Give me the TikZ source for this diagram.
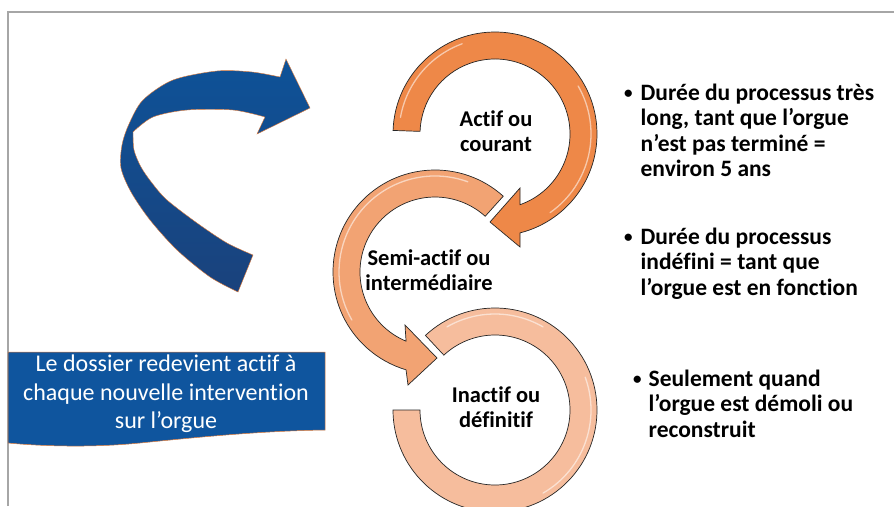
\documentclass[tikz,border=0pt]{standalone}
\usepackage{fontspec}
\setmainfont{Carlito}[Ligatures=NoCommon]
\usetikzlibrary{calc}

\definecolor{cadre}{RGB}{166,166,166}
\definecolor{bleuA}{RGB}{14,82,152}
\definecolor{bleuB}{RGB}{26,66,124}
\definecolor{bleuBox}{RGB}{15,85,158}
\definecolor{liseret}{RGB}{224,123,57}
\definecolor{orangeA}{RGB}{238,136,72}
\definecolor{orangeB}{RGB}{242,163,115}
\definecolor{orangeC}{RGB}{246,189,157}

\tikzset{
  ring/.style={draw=black!85, line width=0.7pt, line join=miter},
  shine/.style={draw=white, opacity=0.55, line width=1.3pt, line cap=round},
  etape/.style={font=\bfseries\fontsize{22.5}{25}\selectfont, align=center, inner sep=0pt},
  puce/.style={font=\bfseries\fontsize{23.5}{25.5}\selectfont, anchor=base west, inner sep=0pt},
  boite/.style={text=white, font=\fontsize{24}{28.5}\selectfont, align=center, inner sep=0pt},
}
\newcommand{\listepuce}[2][8pt]{\raisebox{1.5pt}{\fontsize{17}{17}\selectfont\textbullet}\hspace{#1}\begin{tabular}[t]{@{}l@{}}#2\end{tabular}}

\begin{document}
\begin{tikzpicture}[x=1pt, y=-1pt]
  \clip (0,0) rectangle (894,506);
  \fill[white] (0,0) rectangle (894,506);
  % cadre
  \draw[cadre, line width=1.8pt] (8,506) -- (8,12) -- (894,12);

  % fleche bleue
  \draw[liseret, line width=0.4pt, top color=bleuA, bottom color=bleuB]
    (238,292) -- plot[smooth] coordinates {(238,292) (210,277) (177,250) (150,220) (131,192)
      (121,168) (122,145) (129,124) (143,100) (173,80) (217,71) (252,72) (280,77)}
    -- (286,59) -- (310,108) -- (257,134)
    -- plot[smooth] coordinates {(265,117) (233,110) (187,110) (153,117) (133,132)}
    -- plot[smooth] coordinates {(133,132) (134,150) (141,167) (152,183) (167,200) (197,223) (227,243) (253,255)}
    -- cycle;

  % cadre bleu
  \draw[liseret, line width=0.5pt, fill=bleuBox] (8,352) -- (325,352) -- (325,430)
    .. controls (260,431) and (200,437) .. (140,443)
    .. controls (90,448) and (40,446) .. (8,443) -- cycle;
  \node[boite] (dossier) at (166,394) {Le dossier redevient actif à\\chaque nouvelle intervention\\sur l’orgue};

  % cercles
  \coordinate (cT) at (495,134);
  \coordinate (cS) at (435,272);
  \coordinate (cI) at (495,410);

  \draw[ring, fill=orangeC] ([shift={(227:102)}]cI) arc[start angle=227, end angle=540, radius=102]
    -- ([shift={(540:75)}]cI) arc[start angle=540, end angle=227, radius=75] -- cycle;
  \draw[shine] ([shift={(240:96)}]cI) arc[start angle=240, end angle=300, radius=96];
  \draw[shine] ([shift={(340:96)}]cI) arc[start angle=340, end angle=420, radius=96];

  \draw[ring, fill=orangeB] ([shift={(312:102)}]cS) arc[start angle=312, end angle=106.5, radius=102]
    -- (408,385) -- (437,358) -- (405,325)
    -- ([shift={(112.7:75)}]cS) arc[start angle=112.7, end angle=312, radius=75] -- cycle;
  \draw[shine] ([shift={(290:96)}]cS) arc[start angle=290, end angle=150, radius=96];

  \draw[ring, fill=orangeA] ([shift={(182:102)}]cT) arc[start angle=182, end angle=435.8, radius=102]
    -- (520,247) -- (490,222) -- (520,188)
    -- ([shift={(430.5:75)}]cT) arc[start angle=430.5, end angle=182, radius=75] -- cycle;
  \draw[shine] ([shift={(190:96)}]cT) arc[start angle=190, end angle=250, radius=96];
  \draw[shine] ([shift={(330:96)}]cT) arc[start angle=330, end angle=415, radius=96];

  \node[etape] (actif) at (496,131) {Actif ou\\courant};
  \node[etape] (semi) at (429,270) {Semi-actif ou\\intermédiaire};
  \node[etape] (inactif) at (496,407) {Inactif ou\\définitif};

  % textes a droite
  \node[puce] (duree1) at (624,100) {\listepuce{Durée du processus très\\long, tant que l’orgue\\n’est pas terminé =\\environ 5 ans}};
  \node[puce] (duree2) at (624,244) {\listepuce{Durée du processus\\indéfini = tant que\\l’orgue est en fonction}};
  \node[puce] (seul) at (633,386) {\listepuce[7pt]{Seulement quand\\l’orgue est démoli ou\\reconstruit}};
\end{tikzpicture}
\end{document}
